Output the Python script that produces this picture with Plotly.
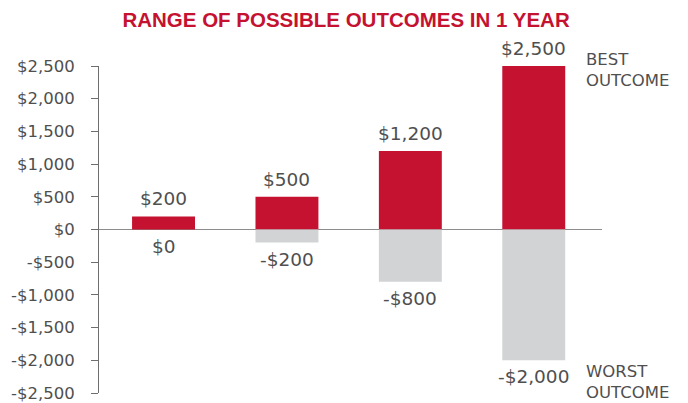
import plotly.graph_objects as go

categories = ["A", "B", "C", "D"]
best_values = [200, 500, 1200, 2500]
worst_values = [0, -200, -800, -2000]
tick_values = [-2500, -2000, -1500, -1000, -500, 0, 500, 1000, 1500, 2000, 2500]

RED = "#C41230"
GRAY = "#D1D3D4"
TEXT = "#4F4F4F"
FONT = "DejaVu Sans"

def money(v):
    return ("-$" if v < 0 else "$") + f"{abs(v):,}"

fig = go.Figure()
fig.add_trace(go.Bar(x=categories, y=best_values, marker=dict(color=RED, line=dict(width=0)),
                     width=0.51, hoverinfo="skip", showlegend=False))
fig.add_trace(go.Bar(x=categories, y=worst_values, marker=dict(color=GRAY, line=dict(width=0)),
                     width=0.51, hoverinfo="skip", showlegend=False))

annotations = []
for c, v in zip(categories, best_values):
    annotations.append(dict(x=c, y=v, xref="x", yref="y", text=money(v), showarrow=False,
                            yanchor="bottom", yshift=5, font=dict(family=FONT, size=18.5, color=TEXT)))
for c, v in zip(categories, worst_values):
    annotations.append(dict(x=c, y=v, xref="x", yref="y", text=money(v), showarrow=False,
                            yanchor="top", yshift=-4, font=dict(family=FONT, size=18.5, color=TEXT)))

annotations.append(dict(x=0.965, xref="paper", y=best_values[-1], yref="y", text="BEST<br>OUTCOME",
                        showarrow=False, xanchor="left", yanchor="top", align="left", yshift=18.5,
                        font=dict(family=FONT, size=16.5, color=TEXT)))
annotations.append(dict(x=0.965, xref="paper", y=worst_values[-1], yref="y", text="WORST<br>OUTCOME",
                        showarrow=False, xanchor="left", yanchor="top", align="left", yshift=0,
                        font=dict(family=FONT, size=16.5, color=TEXT)))

fig.update_layout(
    width=688, height=403,
    margin=dict(l=99, r=86, t=66, b=10, autoexpand=False),
    paper_bgcolor="white", plot_bgcolor="white",
    barmode="overlay",
    title=dict(text="<b>RANGE OF POSSIBLE OUTCOMES IN 1 YEAR</b>", x=0.503, xanchor="center",
               y=0.95, yanchor="middle", yref="container",
               font=dict(family="Liberation Sans", size=20.5, color=RED)),
    xaxis=dict(range=[-0.523, 3.553], showticklabels=False, showline=False, showgrid=False,
               zeroline=False, ticks="", automargin=False),
    yaxis=dict(range=[-2500, 2500], tickvals=tick_values, ticktext=[money(v) for v in tick_values],
               showline=True, linecolor="#6E6E6E", linewidth=1, ticks="outside", ticklen=7,
               tickcolor="#6E6E6E", tickwidth=1, showgrid=False, automargin=False,
               zeroline=True, zerolinecolor="#8C8C8C", zerolinewidth=1.5,
               tickfont=dict(family=FONT, size=16.5, color=TEXT), ticklabelstandoff=13,
               ticklabeloverflow="allow"),
    annotations=annotations,
)

fig.write_html("out.html", config={"displayModeBar": False, "staticPlot": True},
               post_script="document.body.style.margin='0';document.body.style.overflow='hidden';")
